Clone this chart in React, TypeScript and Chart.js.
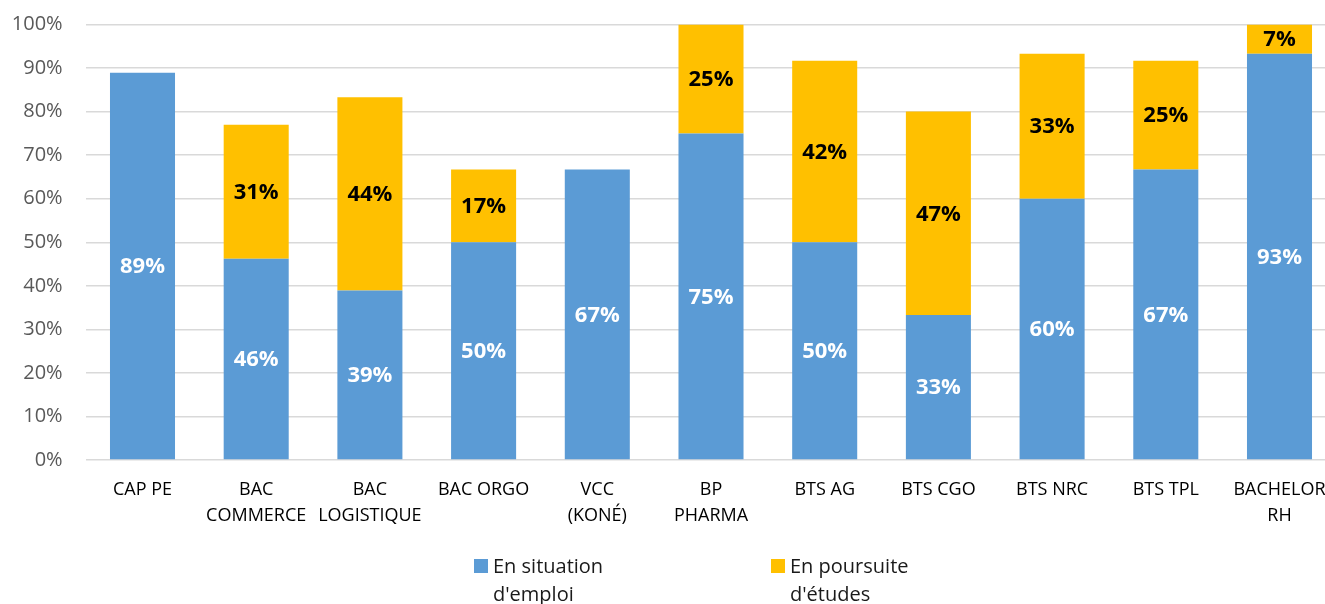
import React, { useEffect, useRef } from "react";
import { Chart, registerables } from "chart.js";

Chart.register(...registerables);

const categories: (string | string[])[] = [
  "CAP PE",
  ["BAC", "COMMERCE"],
  ["BAC", "LOGISTIQUE"],
  "BAC ORGO",
  ["VCC", "(KONÉ)"],
  ["BP", "PHARMA"],
  "BTS AG",
  "BTS CGO",
  "BTS NRC",
  "BTS TPL",
  ["BACHELOR", "RH"],
];

const emploiValues = [88.9, 46.2, 38.9, 50, 66.7, 75, 50, 33.3, 60, 66.7, 93.3];
const etudesValues = [0, 30.8, 44.4, 16.7, 0, 25, 41.7, 46.7, 33.3, 25, 6.7];

const seriesLabels = [
  ["En situation", "d'emploi"],
  ["En poursuite", "d'études"],
];

const yTicks = [0, 10, 20, 30, 40, 50, 60, 70, 80, 90, 100];

const BLUE = "#5B9BD5";
const ORANGE = "#FFC000";
const FONT = "'Open Sans', 'DejaVu Sans', sans-serif";

const dataLabelPlugin = {
  id: "segmentLabels",
  afterDatasetsDraw(chart: any) {
    const ctx = chart.ctx;
    ctx.save();
    ctx.font = `bold 22px ${FONT}`;
    ctx.textAlign = "center";
    ctx.textBaseline = "middle";
    chart.data.datasets.forEach((ds: any, di: number) => {
      const meta = chart.getDatasetMeta(di);
      meta.data.forEach((bar: any, i: number) => {
        const v = ds.data[i];
        if (!v) return;
        ctx.fillStyle = di === 0 ? "#FFFFFF" : "#000000";
        const y = (bar.y + bar.base) / 2;
        ctx.fillText(Math.round(v) + "%", bar.x, y + 1);
      });
    });
    ctx.restore();
  },
};

const legendPlugin = {
  id: "customLegend",
  afterDraw(chart: any) {
    const ctx = chart.ctx;
    ctx.save();
    ctx.font = `20px ${FONT}`;
    ctx.textAlign = "left";
    ctx.textBaseline = "alphabetic";
    const x0 = 474;
    const slot = 297;
    const boxTop = 559;
    const box = 14;
    const baseline = 573;
    const lh = 28;
    chart.data.datasets.forEach((ds: any, di: number) => {
      const x = x0 + di * slot;
      ctx.fillStyle = ds.backgroundColor;
      ctx.fillRect(x, boxTop, box, box);
      ctx.fillStyle = "#1a1a1a";
      const lines: string[] = ds.legendLines;
      lines.forEach((ln, li) => ctx.fillText(ln, x + box + 5, baseline + li * lh));
    });
    ctx.restore();
  },
};

export default function App() {
  const ref = useRef<HTMLCanvasElement | null>(null);
  useEffect(() => {
    if (!ref.current) return;
    const chart = new Chart(ref.current, {
      type: "bar",
      data: {
        labels: categories as any,
        datasets: [
          {
            label: seriesLabels[0].join(" "),
            legendLines: seriesLabels[0],
            data: emploiValues,
            backgroundColor: BLUE,
            borderWidth: 0,
            categoryPercentage: 1,
            barPercentage: 0.572,
          } as any,
          {
            label: seriesLabels[1].join(" "),
            legendLines: seriesLabels[1],
            data: etudesValues,
            backgroundColor: ORANGE,
            borderWidth: 0,
            categoryPercentage: 1,
            barPercentage: 0.572,
          } as any,
        ],
      },
      options: {
        responsive: false,
        animation: false,
        devicePixelRatio: 1,
        layout: { padding: { top: 24.5, right: 8.65, left: 0, bottom: 0 } },
        plugins: {
          legend: { display: false },
          tooltip: { enabled: false },
        },
        scales: {
          x: {
            stacked: true,
            grid: { display: false },
            border: { display: false },
            ticks: {
              autoSkip: false,
              maxRotation: 0,
              minRotation: 0,
              color: "#000000",
              padding: 9,
              font: { family: FONT, size: 18, lineHeight: 26 / 18 },
            },
            afterFit: (scale: any) => {
              scale.height = 144;
              scale.paddingLeft = 0;
              scale.paddingRight = 0;
            },
          },
          y: {
            stacked: true,
            min: 0,
            max: 100,
            afterBuildTicks: (scale: any) => {
              scale.ticks = yTicks.map((v) => ({ value: v }));
            },
            grid: { color: "#D9D9D9", lineWidth: 1.5, drawTicks: false },
            border: { display: false },
            ticks: {
              color: "#595959",
              padding: 23,
              font: { family: FONT, size: 20 },
              callback: (v: any) => v + "%",
            },
            afterFit: (scale: any) => {
              scale.width = 85.65;
              scale.paddingTop = 0;
              scale.paddingBottom = 0;
            },
          },
        },
      },
      plugins: [dataLabelPlugin, legendPlugin],
    } as any);
    return () => chart.destroy();
  }, []);
  return (
    <div
      style={{
        position: "fixed",
        left: 0,
        top: 0,
        width: 1325,
        height: 604,
        overflow: "hidden",
        background: "#fff",
      }}
    >
      <canvas ref={ref} width={1345} height={604} style={{ display: "block", width: 1345, height: 604 }} />
    </div>
  );
}
